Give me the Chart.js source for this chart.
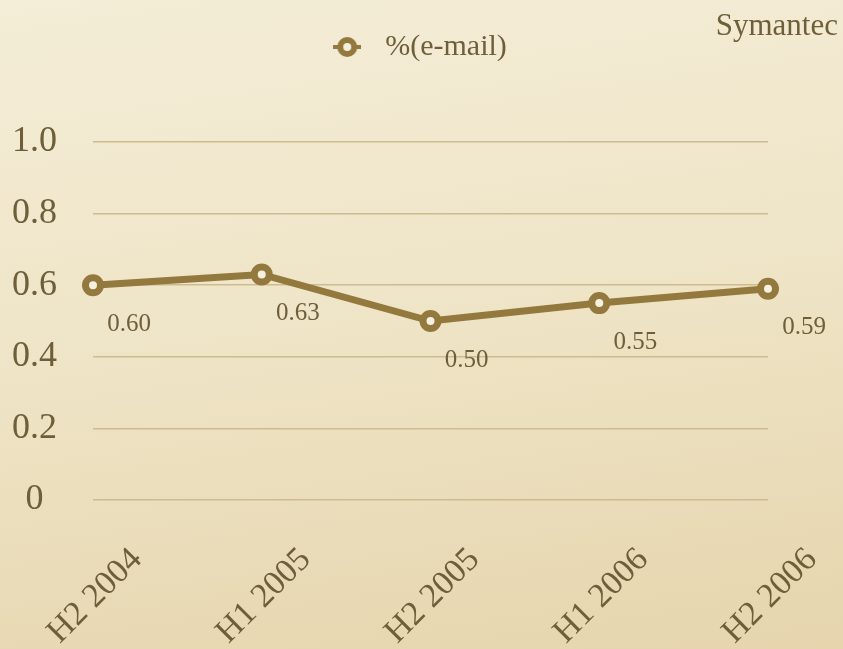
<!DOCTYPE html>
<html>
<head>
<meta charset="utf-8">
<script src="https://cdn.jsdelivr.net/npm/chart.js@4/dist/chart.umd.min.js"></script>
<style>
  html, body { margin: 0; padding: 0; }
  #wrap {
    width: 843px; height: 649px; position: relative;
    background: linear-gradient(172deg, #F4EDD7 0%, #EFE5C8 45%, #E6D5AD 100%);
  }
  canvas { display: block; }
</style>
</head>
<body>
<div id="wrap"><canvas id="c" width="843" height="649"></canvas></div>
<script>
// Share of e-mail messages carrying threats, by half-year
const periods = ['H2 2004', 'H1 2005', 'H2 2005', 'H1 2006', 'H2 2006'];
const emailShare = [0.60, 0.63, 0.50, 0.55, 0.59];
const yTicks = [0, 0.2, 0.4, 0.6, 0.8, 1.0];
const seriesName = '%(e-mail)';
const sourceNote = 'Symantec';

const SERIF = '"Liberation Serif", "DejaVu Serif", serif';
const TEXT = '#6E5F3A';
const LINE = '#94793E';
const GRID = '#CDBC92';
const HOLE = '#F6F0DE';

// Legend swatch: a short line segment with a ring on it
function lineMarker() {
  const c = document.createElement('canvas');
  c.width = 28; c.height = 26;
  const g = c.getContext('2d');
  g.strokeStyle = LINE;
  g.lineWidth = 4;
  g.beginPath(); g.moveTo(0, 13); g.lineTo(28, 13); g.stroke();
  g.beginPath(); g.arc(14, 13, 7, 0, Math.PI * 2);
  g.fillStyle = HOLE; g.fill();
  g.lineWidth = 6; g.stroke();
  return c;
}

// Value labels under each point
const valueLabels = {
  id: 'valueLabels',
  afterDatasetsDraw(chart) {
    const ctx = chart.ctx;
    const meta = chart.getDatasetMeta(0);
    ctx.save();
    ctx.font = '25px ' + SERIF;
    ctx.fillStyle = TEXT;
    ctx.textAlign = 'center';
    ctx.textBaseline = 'middle';
    meta.data.forEach((pt, i) => {
      ctx.fillText(emailShare[i].toFixed(2), pt.x + 36, pt.y + 39);
    });
    ctx.restore();
  }
};

// Source note in the top-right corner
const sourceLabel = {
  id: 'sourceLabel',
  afterDraw(chart) {
    const ctx = chart.ctx;
    ctx.save();
    ctx.font = '31px ' + SERIF;
    ctx.fillStyle = TEXT;
    ctx.textAlign = 'right';
    ctx.textBaseline = 'middle';
    ctx.fillText(sourceNote, chart.width - 5, 27);
    ctx.restore();
  }
};

// Leave room between the legend and the plot
const legendSpace = {
  id: 'legendSpace',
  beforeInit(chart) {
    const fit = chart.legend.fit;
    chart.legend.fit = function () {
      fit.call(this);
      this.height = 120;
    };
  }
};

const marker = lineMarker();

new Chart(document.getElementById('c'), {
  type: 'line',
  data: {
    labels: periods,
    datasets: [{
      label: seriesName,
      data: emailShare,
      borderColor: LINE,
      backgroundColor: LINE,
      borderWidth: 7,
      pointRadius: 7.5,
      pointHoverRadius: 7.5,
      pointBorderWidth: 7,
      pointBorderColor: LINE,
      pointBackgroundColor: HOLE,
      tension: 0,
      fill: false
    }]
  },
  options: {
    responsive: false,
    animation: false,
    layout: { padding: { left: 0, right: 12, top: 22, bottom: 0 } },
    plugins: {
      legend: {
        display: true,
        position: 'top',
        labels: {
          usePointStyle: true,
          pointStyleWidth: 46,
          padding: 10,
          color: TEXT,
          font: { family: SERIF, size: 30 },
          generateLabels(chart) {
            const items = Chart.defaults.plugins.legend.labels.generateLabels(chart);
            items.forEach(it => { it.pointStyle = marker; });
            return items;
          }
        }
      },
      title: { display: false },
      tooltip: { enabled: false }
    },
    scales: {
      x: {
        offset: false,
        grid: { display: false, drawTicks: false },
        border: { display: false },
        afterFit(axis) { axis.height = 149; axis.paddingLeft = 0; axis.paddingRight = 75; },
        ticks: {
          color: TEXT,
          font: { family: SERIF, size: 34 },
          maxRotation: 45,
          minRotation: 45,
          padding: 40,
          labelOffset: 44,
          autoSkip: false
        }
      },
      y: {
        min: 0,
        max: 1.0,
        afterFit(axis) { axis.width = 93; },
        afterBuildTicks(axis) { axis.ticks = yTicks.map(v => ({ value: v })); },
        grid: { color: GRID, lineWidth: 1.5, drawTicks: false },
        border: { display: false },
        ticks: {
          color: TEXT,
          font: { family: SERIF, size: 36 },
          crossAlign: 'center',
          padding: 36,
          callback: v => (v === 0 ? '0' : v.toFixed(1))
        }
      }
    }
  },
  plugins: [valueLabels, sourceLabel, legendSpace]
});
</script>
</body>
</html>
